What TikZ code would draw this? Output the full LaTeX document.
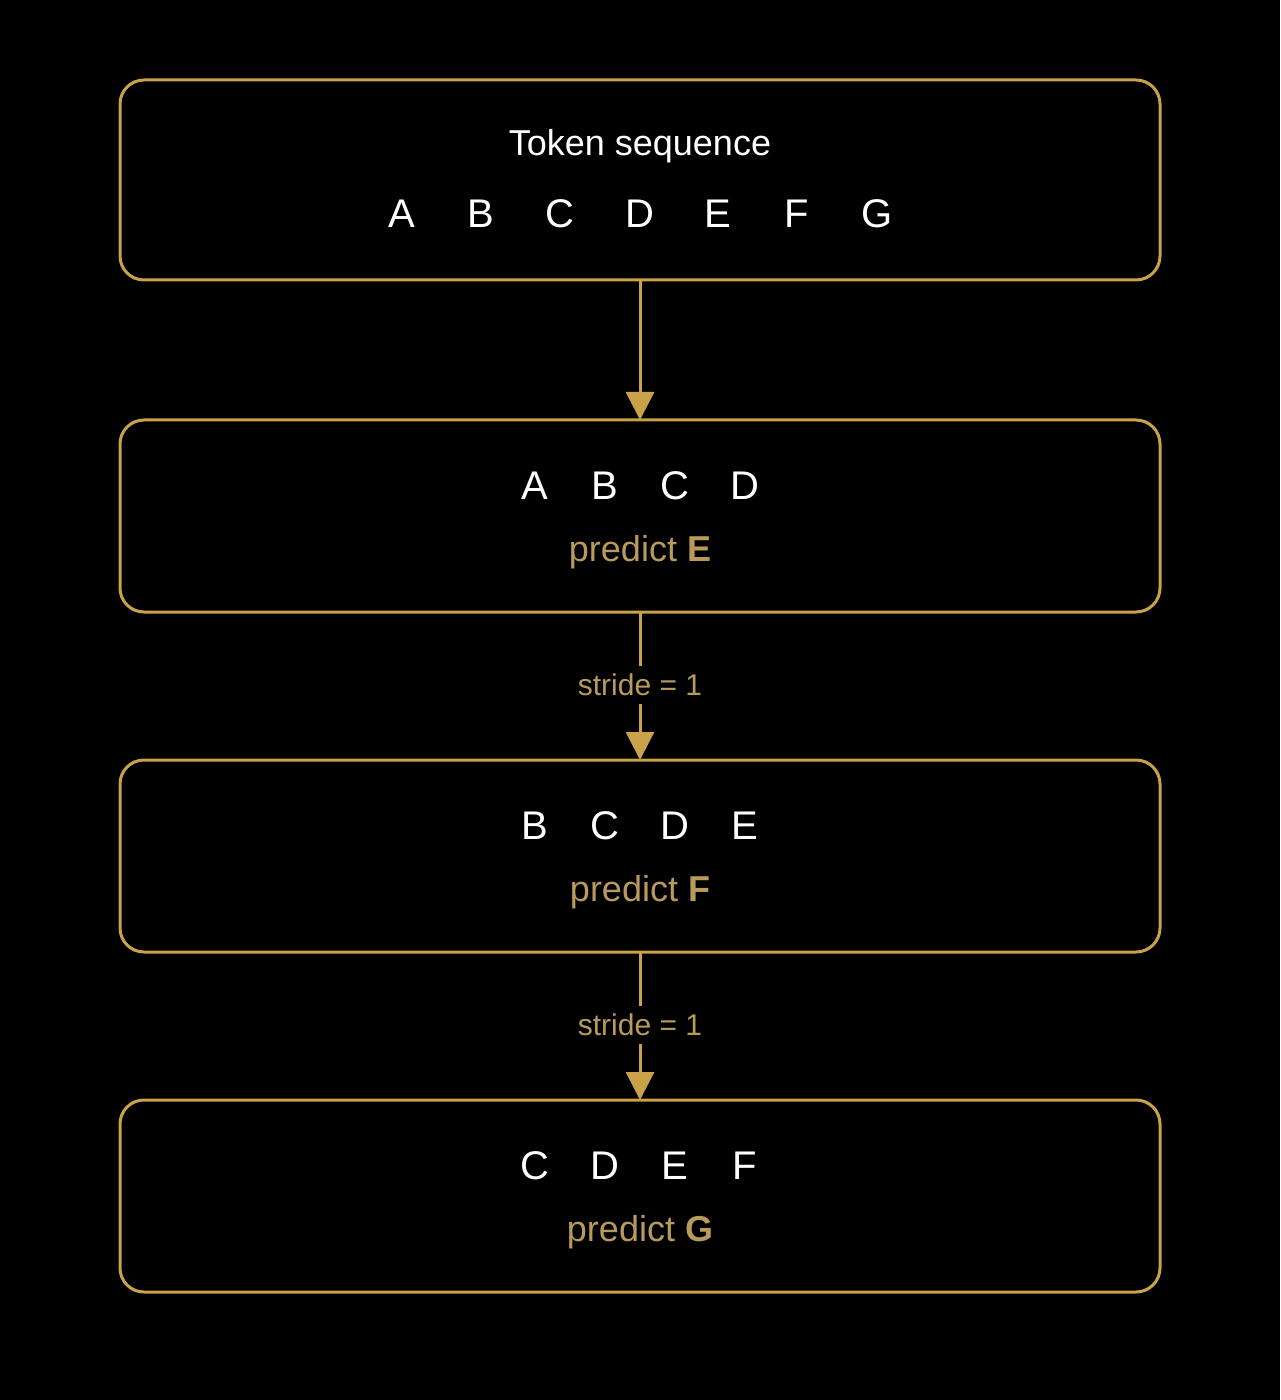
\documentclass[tikz,border=0pt]{standalone}
\usepackage{fontspec}
\setmainfont{Liberation Sans}
\usetikzlibrary{arrows.meta}
\definecolor{gold}{HTML}{C9A24A}
\definecolor{goldtxt}{HTML}{B89B5C}
\begin{document}
\begin{tikzpicture}[x=0.5pt,y=-0.5pt,
  box/.style={draw=gold,line width=1.5pt,rounded corners=12pt,fill=black},
  tok/.style={text=white,font=\fontsize{20}{24}\selectfont,inner sep=0},
  pred/.style={text=goldtxt,font=\fontsize{18}{22}\selectfont,inner sep=0},
  arr/.style={draw=gold,line width=1.5pt,-{Triangle[width=14pt,length=14pt]}},
  lbl/.style={text=goldtxt,fill=black,font=\fontsize{15}{18}\selectfont,inner sep=4pt}]
\fill[black] (0,0) rectangle (1280,1400);
\draw[box] (120,80) rectangle (1160,280);
\node[box,draw=none,fill=none,inner sep=0,minimum size=0] (b1) at (640,180) {};
\coordinate (b1s) at (640,280);
\node[text=white,font=\fontsize{18}{22}\selectfont] (t) at (640,146) {Token sequence};
\foreach \l/\x in {A/402,B/481,C/560,D/640,E/718,F/797,G/877}
  \node[tok] (s\l) at (\x,214) {\l};
\draw[box] (120,420) rectangle (1160,612);
\coordinate (b2n) at (640,420); \coordinate (b2s) at (640,612);
\foreach \l/\x in {A/535,B/605,C/675,D/745} \node[tok] (r1\l) at (\x,486) {\l};
\node[pred] (p1) at (640,552) {predict \textbf{E}};
\draw[box] (120,760) rectangle (1160,952);
\coordinate (b3n) at (640,760); \coordinate (b3s) at (640,952);
\foreach \l/\x in {B/535,C/605,D/675,E/745} \node[tok] (r2\l) at (\x,826) {\l};
\node[pred] (p2) at (640,892) {predict \textbf{F}};
\draw[box] (120,1100) rectangle (1160,1292);
\coordinate (b4n) at (640,1100);
\foreach \l/\x in {C/535,D/605,E/675,F/745} \node[tok] (r3\l) at (\x,1166) {\l};
\node[pred] (p3) at (640,1232) {predict \textbf{G}};
\draw[arr] (b1s) -- (b2n);
\draw[arr] (b2s) -- (b3n);
\node[lbl] (l1) at (640,685) {stride = 1};
\draw[arr] (b3s) -- (b4n);
\node[lbl] (l2) at (640,1025) {stride = 1};
\end{tikzpicture}
\end{document}
